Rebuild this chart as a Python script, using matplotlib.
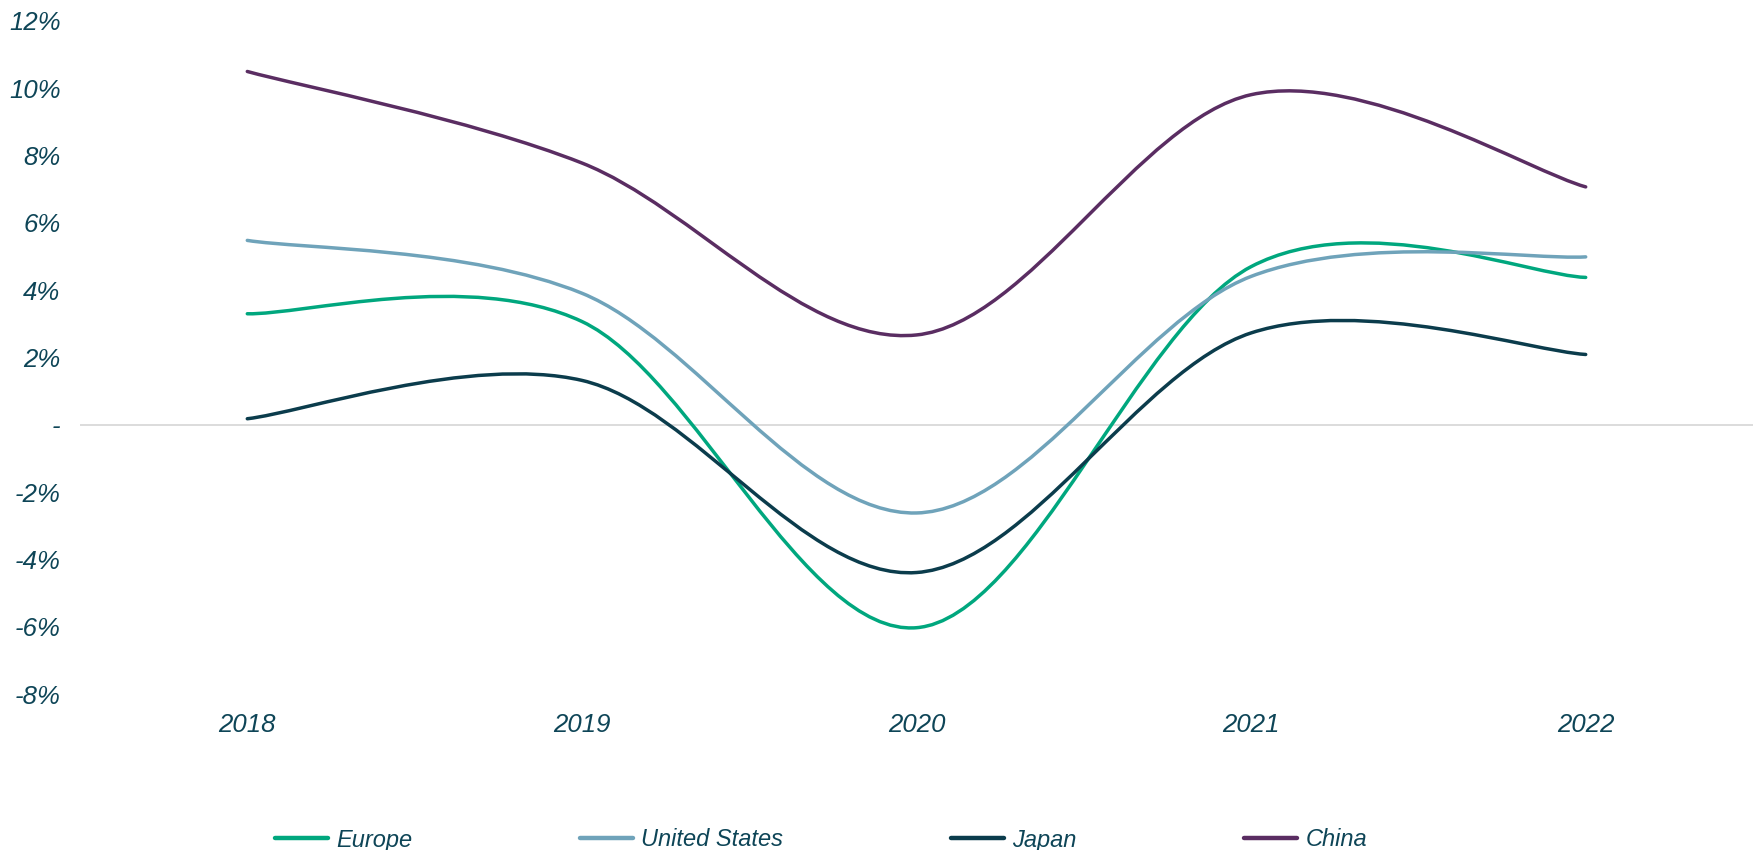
import numpy as np
import matplotlib
matplotlib.use("Agg")
import matplotlib.pyplot as plt
from matplotlib.path import Path
from matplotlib.patches import PathPatch
from matplotlib.lines import Line2D
from matplotlib.ticker import FuncFormatter

years = ["2018", "2019", "2020", "2021", "2022"]
europe = [3.30, 3.07, -6.03, 4.70, 4.38]
united_states = [5.48, 3.91, -2.62, 4.41, 4.99]
japan = [0.18, 1.32, -4.39, 2.73, 2.09]
china = [10.50, 7.78, 2.67, 9.81, 7.07]

series_names = ["Europe", "United States", "Japan", "China"]
series_colors = ["#00A77E", "#6FA3BA", "#0B3C4C", "#5A2D62"]
text_color = "#0E4557"

plt.rcParams["font.family"] = ["Liberation Sans", "DejaVu Sans"]


def smooth_path(x, y):
    # cubic Bezier segments through every point, tangent from neighbours (Excel-style smoothing)
    pts = np.column_stack([x, y]).astype(float)
    n = len(pts)
    verts = [pts[0]]
    codes = [Path.MOVETO]
    for i in range(n - 1):
        p0 = pts[i - 1] if i > 0 else pts[i]
        p1 = pts[i]
        p2 = pts[i + 1]
        p3 = pts[i + 2] if i + 2 < n else pts[i + 1]
        c1 = p1 + (p2 - p0) / 6.0
        c2 = p2 - (p3 - p1) / 6.0
        verts += [c1, c2, p2]
        codes += [Path.CURVE4] * 3
    return Path(verts, codes)


fig = plt.figure(figsize=(17.53, 8.5), dpi=100)
ax = fig.add_axes([80 / 1753, 1 - 694 / 850, 1 - 80 / 1753, (694 - 21) / 850])

x = np.arange(len(years))
for vals, name, col in zip([europe, united_states, japan, china], series_names, series_colors):
    p = smooth_path(x, np.array(vals) / 100.0)
    ax.add_patch(PathPatch(p, facecolor="none", edgecolor=col, lw=2.5,
                           capstyle="round", joinstyle="round", zorder=3))

ax.axhline(0, color="#D9D9D9", lw=1.3, zorder=1)

ax.set_xlim(-0.5, 4.5)
ax.set_ylim(-0.08, 0.12)
ax.set_yticks(np.arange(-0.08, 0.121, 0.02))
ax.yaxis.set_major_formatter(FuncFormatter(
    lambda v, pos: "-" if abs(v) < 1e-9 else "%d%%" % round(v * 100)))
ax.set_xticks(x)
ax.set_xticklabels(years)

for s in ax.spines.values():
    s.set_visible(False)
ax.tick_params(axis="both", length=0, labelsize=18.5, labelcolor=text_color)
ax.tick_params(axis="y", pad=14)
ax.tick_params(axis="x", pad=14)
for lab in ax.get_xticklabels() + ax.get_yticklabels():
    lab.set_fontstyle("italic")

handles = [Line2D([], [], color=c, lw=3.2, solid_capstyle="round") for c in series_colors]
leg = fig.legend(handles, series_names, loc="center", bbox_to_anchor=(821 / 1753, 1 - 840 / 850),
                 ncol=4, frameon=False, handlelength=2.25, handletextpad=0.35,
                 columnspacing=7.1, prop={"size": 17, "style": "italic"})
for t in leg.get_texts():
    t.set_color(text_color)

fig.savefig("out.png", dpi=100)
